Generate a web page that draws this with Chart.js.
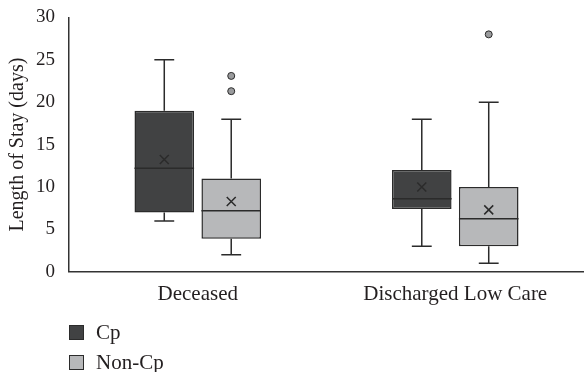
<!DOCTYPE html>
<html>
<head>
<meta charset="utf-8">
<script src="https://cdn.jsdelivr.net/npm/chart.js@4"></script>
<style>
  html, body { margin: 0; padding: 0; background: #fff; }
  #wrap { width: 584px; height: 372px; }
</style>
</head>
<body>
<div id="wrap"><canvas id="chart" width="584" height="372"></canvas></div>
<script>
// --- DATA ---
const categories = ['Deceased', 'Discharged Low Care'];
const seriesNames = ['Cp', 'Non-Cp'];

const cpMin = [6, 3];
const cpQ1 = [7, 7.4];
const cpMedian = [12.2, 8.6];
const cpQ3 = [19, 12];
const cpMax = [25, 18];
const cpMean = [13.25, 10];
const cpOutliers = [[], []];

const nonCpMin = [2, 1];
const nonCpQ1 = [3.9, 3];
const nonCpMedian = [7.2, 6.25];
const nonCpQ3 = [11, 10];
const nonCpMax = [18, 20];
const nonCpMean = [8.3, 7.3];
const nonCpOutliers = [[23.1, 21.3], [28]];

const yTicks = [0, 5, 10, 15, 20, 25, 30];

const serif = '"Liberation Serif", "DejaVu Serif", serif';
const textColor = '#231f20';

const stats = [
    { min: cpMin, q1: cpQ1, med: cpMedian, q3: cpQ3, max: cpMax, mean: cpMean, out: cpOutliers },
    { min: nonCpMin, q1: nonCpQ1, med: nonCpMedian, q3: nonCpQ3, max: nonCpMax, mean: nonCpMean, out: nonCpOutliers }
];
const fills = ['#414243', '#b7b8ba'];

// --- box extras: whiskers, median, mean, outliers ---
const boxExtras = {
    id: 'boxExtras',
    afterDatasetsDraw(chart) {
        const ctx = chart.ctx;
        const y = chart.scales.y;
        ctx.save();
        ctx.strokeStyle = '#2b2b2b';
        ctx.lineWidth = 1.5;
        stats.forEach((s, di) => {
            const meta = chart.getDatasetMeta(di);
            meta.data.forEach((bar, i) => {
                const cx = bar.x;
                const half = bar.width / 2;
                const cap = bar.width / 6;
                const py = v => y.getPixelForValue(v);
                ctx.beginPath();
                // upper whisker
                ctx.moveTo(cx, py(s.q3[i])); ctx.lineTo(cx, py(s.max[i]));
                ctx.moveTo(cx - cap, py(s.max[i])); ctx.lineTo(cx + cap, py(s.max[i]));
                // lower whisker
                ctx.moveTo(cx, py(s.q1[i])); ctx.lineTo(cx, py(s.min[i]));
                ctx.moveTo(cx - cap, py(s.min[i])); ctx.lineTo(cx + cap, py(s.min[i]));
                // median
                ctx.moveTo(cx - half, py(s.med[i])); ctx.lineTo(cx + half, py(s.med[i]));
                // mean X
                const m = py(s.mean[i]), k = 4.5;
                ctx.moveTo(cx - k, m - k); ctx.lineTo(cx + k, m + k);
                ctx.moveTo(cx - k, m + k); ctx.lineTo(cx + k, m - k);
                ctx.stroke();
                // outliers
                s.out[i].forEach(v => {
                    ctx.beginPath();
                    ctx.arc(cx, py(v), 3.5, 0, Math.PI * 2);
                    ctx.fillStyle = '#9a9b9d';
                    ctx.fill();
                    ctx.lineWidth = 1;
                    ctx.stroke();
                    ctx.lineWidth = 1.5;
                });
            });
        });
        ctx.restore();
    }
};

// --- vertical legend under the axis ---
const stackedLegend = {
    id: 'stackedLegend',
    afterDraw(chart) {
        const ctx = chart.ctx;
        ctx.save();
        ctx.font = '21px ' + serif;
        ctx.textBaseline = 'middle';
        chart.data.datasets.forEach((ds, i) => {
            const top = 325 + i * 30;
            ctx.fillStyle = ds.backgroundColor;
            ctx.fillRect(69.5, top + 0.5, 14, 14);
            ctx.strokeStyle = '#2b2b2b';
            ctx.lineWidth = 1;
            ctx.strokeRect(69.5, top + 0.5, 14, 14);
            ctx.fillStyle = textColor;
            ctx.fillText(ds.label, 96, top + 8);
        });
        ctx.restore();
    }
};

new Chart(document.getElementById('chart'), {
    type: 'bar',
    data: {
        labels: categories,
        datasets: stats.map((s, di) => ({
            label: seriesNames[di],
            data: s.q1.map((q, i) => [q, s.q3[i]]),
            backgroundColor: fills[di],
            borderColor: '#2b2b2b',
            borderWidth: 1.5,
            borderSkipped: false,
            categoryPercentage: 0.52,
            barPercentage: 0.89
        }))
    },
    options: {
        responsive: false,
        animation: false,
        layout: { padding: { top: 2, right: 0, bottom: 63, left: 6 } },
        plugins: {
            legend: { display: false },
            tooltip: { enabled: false }
        },
        scales: {
            x: {
                grid: { display: false },
                border: { color: '#333', width: 1.5 },
                ticks: { color: textColor, font: { family: serif, size: 21 }, padding: 2 }
            },
            y: {
                min: 0,
                max: 30,
                afterBuildTicks: axis => { axis.ticks = yTicks.map(v => ({ value: v })); },
                grid: { display: false },
                border: { color: '#333', width: 1.5 },
                ticks: { color: textColor, font: { family: serif, size: 19 }, padding: 6 },
                title: {
                    display: true,
                    text: 'Length of Stay (days)',
                    color: textColor,
                    font: { family: serif, size: 20 },
                    padding: { top: 0, bottom: 0 }
                }
            }
        }
    },
    plugins: [boxExtras, stackedLegend]
});
</script>
</body>
</html>
